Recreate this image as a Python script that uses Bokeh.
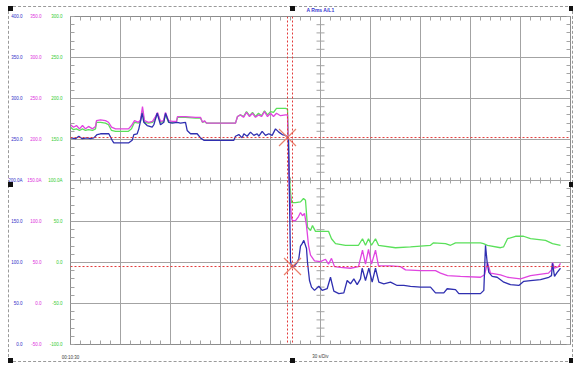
import numpy as np
from bokeh.plotting import figure
from bokeh.models import Range1d, LinearAxis, FixedTicker, Span
from bokeh.embed import file_html
from bokeh.resources import INLINE

# ---------------- data (time in s from 00:10:30, values in each trace's own units) -------------
t_blue = [0, 3, 5, 7, 10, 12, 14, 16, 18, 20, 23, 25, 26, 30, 35, 37, 38, 40, 41, 43, 44, 46, 49, 50,
          52, 54, 56, 57, 59, 61, 64, 66, 69, 70, 72, 76, 78, 80, 84, 90, 98, 99, 101, 103, 104, 106,
          108, 110, 112, 113, 115, 117, 119, 121, 123, 125, 127, 129, 130.8, 131.4, 132, 132.6, 134,
          136, 137, 138, 139, 140, 141.6, 142.2, 143.4, 144.6, 146.4, 149, 151, 154, 156, 158, 161,
          164, 166, 168, 170, 172, 174, 175, 177, 179, 181, 183, 185, 188, 192, 196, 200, 204, 210,
          216, 219, 224, 226, 231, 233, 240, 246, 248, 249, 250, 251, 253, 256, 260, 264, 269, 272,
          276, 282, 287, 288.6, 289.2, 290.4, 292, 294]
a_blue = [252, 251, 254, 251, 252, 251, 252, 256, 257, 257, 257, 249, 246, 246, 246, 249, 256, 257,
          263, 282, 271, 267, 265, 268, 282, 268, 271, 282, 271, 270, 271, 270, 271, 261, 257, 257,
          252, 249, 249, 249, 249, 254, 256, 252, 257, 254, 259, 255, 257, 254, 260, 255, 257, 255,
          263, 259, 256, 255, 252, 176, 102, 94, 95, 100, 105, 120, 123, 127, 117, 100, 78, 70, 66,
          71, 66, 68, 82, 65, 62, 63, 78, 74, 80, 73, 80, 93, 78, 93, 76, 93, 76, 74, 76, 72, 72, 71,
          70, 70, 63, 63, 68, 67, 62, 62, 62, 66, 121, 100, 88, 83, 82, 76, 73, 72, 77, 78, 79, 82,
          84, 99, 83, 88, 93]

t_magenta = [0, 1.8, 3.6, 5.4, 7.2, 9, 10.8, 13.2, 15, 15.6, 18, 21, 22.8, 24.6, 27, 34.8, 36.6, 38.4,
             40.8, 42, 43.2, 44.4, 46.8, 49.2, 51, 52.2, 54, 55.8, 57, 58.8, 61.2, 63.6, 64.2, 69, 75,
             78, 79.2, 80.4, 81.6, 87, 93, 99, 100.2, 102, 103.8, 105.6, 107.4, 109.2, 111, 112.8,
             114.6, 116.4, 118.2, 120, 121.8, 123.6, 126, 129, 130.2, 131.4, 132.6, 133.2, 135, 136.8,
             138, 139.2, 140.4, 141.6, 142.8, 144, 146.4, 150, 153, 154.8, 156.6, 158.4, 162, 168,
             172.8, 175.2, 177, 178.8, 180.6, 183, 184.8, 192, 198, 201, 210, 219, 222, 226.2, 234,
             246, 248.4, 250.2, 252, 258, 262.2, 270, 276, 286.8, 288.6, 289.2, 290.4, 292.8, 294]
a_magenta = [218, 215, 217, 213, 217, 213, 216, 213, 216, 223, 224, 223, 221, 215, 213, 213, 217, 223,
             221, 224, 240, 223, 221, 222, 228, 233, 222, 223, 233, 223, 222, 222, 228, 228, 227,
             227, 221, 223, 220, 220, 220, 220, 228, 230, 227, 233, 228, 232, 227, 230, 228, 234,
             228, 232, 228, 232, 229, 230, 230, 138, 104, 101, 101, 106, 111, 107, 110, 95, 71, 59,
             52, 51, 54, 48, 55, 45, 44, 43, 45, 65, 48, 66, 48, 65, 46, 46, 45, 41, 40, 40, 37, 34,
             33, 32, 35, 50, 37, 35, 32, 30, 34, 37, 41, 50, 43, 45, 49]

t_green = [0, 1.8, 3.6, 5.4, 7.2, 9, 10.8, 13.2, 15, 15.6, 18, 21, 22.8, 24.6, 27, 34.8, 36.6, 38.4,
           40.8, 42, 43.2, 44.4, 46.8, 49.2, 51, 52.2, 54, 55.8, 57, 58.8, 61.2, 63.6, 64.2, 69, 75,
           78, 79.2, 80.4, 81.6, 87, 93, 99, 100.2, 102, 103.8, 105.6, 107.4, 109.2, 111, 112.8,
           114.6, 116.4, 118.2, 120, 121.8, 123.6, 126, 129, 130.2, 131.4, 132.6, 135, 138, 139.8,
           141, 142.2, 144, 145.2, 147, 151.2, 154.8, 156.6, 159, 165, 172.8, 175.2, 177, 178.8,
           180.6, 183, 184.8, 195, 204, 216, 217.8, 225, 228, 231, 246, 247.8, 250.2, 258, 259.8,
           262.2, 267, 271.8, 276, 285, 289.2, 294]
a_green = [165, 162, 163, 161, 163, 161, 162, 161, 163, 171, 171, 170, 168, 161, 160, 160, 163, 171,
           170, 172, 185, 171, 170, 171, 176, 182, 171, 172, 180, 171, 171, 172, 177, 177, 176, 176,
           171, 172, 170, 170, 170, 170, 178, 180, 178, 184, 179, 183, 178, 182, 179, 185, 180, 184,
           183, 188, 188, 188, 187, 100, 73, 73, 74, 78, 76, 43, 39, 45, 38, 38, 38, 29, 23, 21, 21,
           29, 21, 29, 21, 29, 21, 18, 19, 21, 24, 23, 21, 24, 24, 23, 21, 18, 19, 29, 32, 32, 29,
           27, 23, 21]

# axis ticks and labels
x_ticks = [0, 30, 60, 90, 120, 150, 180, 210, 240, 270, 300]
x_label_ticks = [0]
x_labels = ["00:10:30"]
blue_ticks = [0, 50, 100, 150, 200, 250, 300, 350, 400]
blue_labels = ["0.0", "50.0", "100.0", "150.0", "200.0A", "250.0", "300.0", "350.0", "400.0"]
magenta_ticks = [-50, 0, 50, 100, 150, 200, 250, 300, 350]
magenta_labels = ["-50.0", "0.0", "50.0", "100.0", "150.0A", "200.0", "250.0", "300.0", "350.0"]
green_ticks = [-100, -50, 0, 50, 100, 150, 200, 250, 300]
green_labels = ["-100.0", "-50.0", "0.0", "50.0", "100.0A", "150.0", "200.0", "250.0", "300.0"]

cursor_t = [130.2, 133.2]
cursor_val = [252.4, 95.1]
channel_label = "A Rms A/L1"
scale_label = "30 s/Div"

# ---------------- styling ----------------
BLUE = "#2f2fb0"
MAGENTA = "#e044e0"
GREEN = "#5ae05a"
GRID = "#a3a3a3"
EDGE = "#8c8c8c"
FONT = "Liberation Sans"
TICK_FS = "4.5px"

page_css = """
:host { position: relative; }
:host::after { content: ""; position: absolute; left: 8px; top: 6px; width: 565px; height: 356px;
  border: 1px dashed #9a9a9a; box-sizing: border-box; pointer-events: none; z-index: 20; }
:host::before { content: ""; position: absolute; left: 8px; top: 6px; width: 5px; height: 5px;
  background: #111; pointer-events: none; z-index: 21;
  box-shadow: 0 176px 0 #111, 0 352px 0 #111, 282px 0 0 #111, 282px 352px 0 #111,
              561px 0 0 #111, 561px 176px 0 #111, 561px 352px 0 #111; }
"""

p = figure(width=572, height=362, x_range=Range1d(0, 300), y_range=Range1d(0, 400),
           x_axis_location=None, y_axis_location=None, toolbar_location=None,
           output_backend="svg", min_border_left=70, min_border_right=2,
           min_border_top=16, min_border_bottom=18, outline_line_color=EDGE,
           background_fill_color="white", border_fill_color="white")
p.stylesheets = [page_css]
p.extra_y_ranges = {"mag": Range1d(-50, 350), "grn": Range1d(-100, 300)}

p.xgrid.ticker = FixedTicker(ticks=x_ticks)
p.ygrid.ticker = FixedTicker(ticks=blue_ticks)
p.grid.grid_line_color = GRID
p.grid.grid_line_width = 1


def minor_of(ticks, n=5):
    step = (ticks[1] - ticks[0]) / n
    return list(np.arange(ticks[0], ticks[-1] + step / 2, step))


def y_axis(rng, ticks, labels, color, standoff, inner):
    return LinearAxis(y_range_name=rng,
                      ticker=FixedTicker(ticks=ticks, minor_ticks=minor_of(ticks)),
                      major_label_overrides=dict(zip(ticks, labels)),
                      major_label_text_color=color, major_label_text_font_size=TICK_FS,
                      major_label_text_font=FONT, major_label_standoff=standoff,
                      major_tick_in=0, major_tick_out=0,
                      minor_tick_in=4 if inner else 0, minor_tick_out=0,
                      minor_tick_line_color=GRID if inner else None,
                      major_tick_line_color=None,
                      axis_line_color=EDGE if inner else None)


p.add_layout(y_axis("grn", green_ticks, green_labels, "#33cc33", 8, True), "left")
p.add_layout(y_axis("mag", magenta_ticks, magenta_labels, "#dc30dc", 4, False), "left")
p.add_layout(y_axis("default", blue_ticks, blue_labels, "#3030c8", 2, False), "left")

right_ax = LinearAxis(ticker=FixedTicker(ticks=[], minor_ticks=minor_of(blue_ticks)),
                      major_label_standoff=0, major_tick_in=0, major_tick_out=0,
                      minor_tick_in=4, minor_tick_out=0,
                      minor_tick_line_color=GRID, axis_line_color=EDGE)
p.add_layout(right_ax, "right")

bottom_ax = LinearAxis(ticker=FixedTicker(ticks=x_label_ticks, minor_ticks=minor_of(x_ticks)),
                       major_label_overrides=dict(zip(x_label_ticks, x_labels)),
                       major_label_text_font_size=TICK_FS, major_label_text_font=FONT,
                       major_label_text_color="#404040", major_label_standoff=10,
                       major_tick_in=0, major_tick_out=0, minor_tick_in=4, minor_tick_out=0,
                       major_tick_line_color=None,
                       minor_tick_line_color=GRID, axis_line_color=EDGE,
                       axis_label=scale_label, axis_label_standoff=-9,
                       axis_label_text_font=FONT, axis_label_text_font_size=TICK_FS,
                       axis_label_text_font_style="normal", axis_label_text_color="#404040")
p.add_layout(bottom_ax, "below")

top_ax = LinearAxis(ticker=FixedTicker(ticks=[], minor_ticks=minor_of(x_ticks)),
                    major_label_standoff=0, major_tick_in=0, major_tick_out=0,
                    minor_tick_in=4, minor_tick_out=0,
                    minor_tick_line_color=GRID, axis_line_color=EDGE,
                    axis_label=channel_label, axis_label_standoff=4,
                    axis_label_text_font=FONT, axis_label_text_font_size="5px",
                    axis_label_text_font_style="bold", axis_label_text_color="#3434d0")
p.add_layout(top_ax, "above")

# centre cross tick marks (oscilloscope style)
xc = x_ticks[len(x_ticks) // 2]
yc = blue_ticks[len(blue_ticks) // 2]
ty = np.array(minor_of(blue_ticks))
tx = np.array(minor_of(x_ticks))
sx = 300 / 500.0   # seconds per pixel
sy = 400 / 328.0   # units per pixel
p.segment(x0=xc - 4 * sx, x1=xc + 4 * sx, y0=ty, y1=ty, line_color=GRID, line_width=1)
p.segment(x0=tx, x1=tx, y0=yc - 3 * sy, y1=yc + 3 * sy, line_color=GRID, line_width=1)

# traces
p.line(t_green, a_green, y_range_name="grn", line_color=GREEN, line_width=1.3)
p.line(t_magenta, a_magenta, y_range_name="mag", line_color=MAGENTA, line_width=1.3)
p.line(t_blue, a_blue, line_color=BLUE, line_width=1.3)

# cursors
for ct in cursor_t:
    p.add_layout(Span(location=ct, dimension="height", line_color="#e23a3a",
                      line_dash="2 2", line_width=1))
for cv in cursor_val:
    p.add_layout(Span(location=cv, dimension="width", line_color="#e23a3a",
                      line_dash="2 2", line_width=1))
p.scatter(cursor_t, cursor_val, marker="x", size=24, line_color="#e8806c", line_width=1.2)

open("out.html", "w").write(file_html(p, INLINE))
